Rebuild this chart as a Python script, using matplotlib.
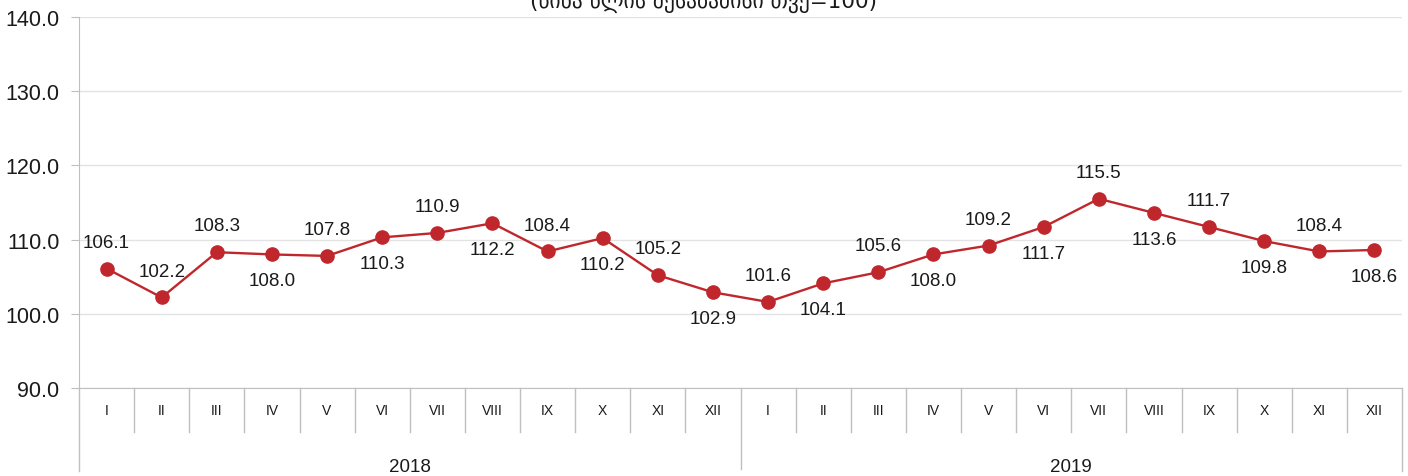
import matplotlib

matplotlib.use("Agg")

import matplotlib.pyplot as plt
import matplotlib.transforms as mtransforms

plt.rcParams["font.family"] = ["Liberation Sans", "DejaVu Sans"]

TITLE = "(წინა წლის შესაბამისი თვე=100)"
MONTHS = ["I", "II", "III", "IV", "V", "VI", "VII", "VIII", "IX", "X", "XI", "XII"]
YEARS = ["2018", "2019"]
VALUES = [
    106.1, 102.2, 108.3, 108.0, 107.8, 110.3, 110.9, 112.2, 108.4, 110.2, 105.2, 102.9,
    101.6, 104.1, 105.6, 108.0, 109.2, 111.7, 115.5, 113.6, 111.7, 109.8, 108.4, 108.6,
]
# label placement: 1 = above the point, -1 = below
LABEL_SIDE = [
    1, 1, 1, -1, 1, -1, 1, -1, 1, -1, 1, -1,
    1, -1, 1, -1, 1, -1, 1, -1, 1, -1, 1, -1,
]

RED = "#C0272D"
GRID = "#E3E3E3"
AXIS = "#BFBFBF"

fig = plt.figure(figsize=(14.08, 4.77), dpi=100)
ax = fig.add_axes([79 / 1408, 1 - 389 / 477, (1402 - 79) / 1408, (389 - 18) / 477])

x = list(range(len(VALUES)))
ax.plot(x, VALUES, color=RED, lw=1.7, marker="o", ms=9.5, mfc=RED, mec=RED, zorder=3)

for xi, v, side in zip(x, VALUES, LABEL_SIDE):
    ax.annotate(
        f"{v:.1f}",
        xy=(xi, v),
        xytext=(0, 19 * side),
        textcoords="offset points",
        ha="center",
        va="center",
        fontsize=13.5,
        color="#1A1A1A",
    )

ax.set_xlim(-0.5, len(VALUES) - 0.5)
ax.set_ylim(90, 140)
ax.set_yticks([90, 100, 110, 120, 130, 140])
ax.set_yticklabels([f"{t:.1f}" for t in [90, 100, 110, 120, 130, 140]], fontsize=15.5, color="#1A1A1A")
ax.yaxis.grid(True, color=GRID, lw=1.0)
ax.set_axisbelow(True)
ax.tick_params(axis="y", length=6, color=AXIS, pad=8)

for side in ["top", "right"]:
    ax.spines[side].set_visible(False)
ax.spines["left"].set_color(AXIS)
ax.spines["bottom"].set_color(AXIS)
ax.spines["left"].set_bounds(90, 140)

# category axis below the plot
ax.set_xticks([])
trans = mtransforms.blended_transform_factory(ax.transData, ax.transAxes)
px = 1.0 / 371.0
labels = MONTHS * len(YEARS)
for xi, lab in enumerate(labels):
    ax.text(xi, -22 * px, lab, transform=trans, ha="center", va="center", fontsize=10, color="#1A1A1A")

for k in range(len(VALUES) + 1):
    xb = k - 0.5
    if k in (0, len(VALUES)):
        y_end = -83 * px
    elif k % 12 == 0:
        y_end = -81 * px
    else:
        y_end = -44 * px
    ax.plot([xb, xb], [0, y_end], transform=trans, color=AXIS, lw=1.0, clip_on=False)

for i, yr in enumerate(YEARS):
    ax.text(i * 12 + 5.5, -79 * px, yr, transform=trans, ha="center", va="center", fontsize=13.5, color="#1A1A1A")

fig.text(0.5, 1 - 1 / 477, TITLE, ha="center", va="center", fontsize=15.5, color="#1A1A1A",
         family=["DejaVu Sans"])

fig.savefig("out.png", dpi=100)
